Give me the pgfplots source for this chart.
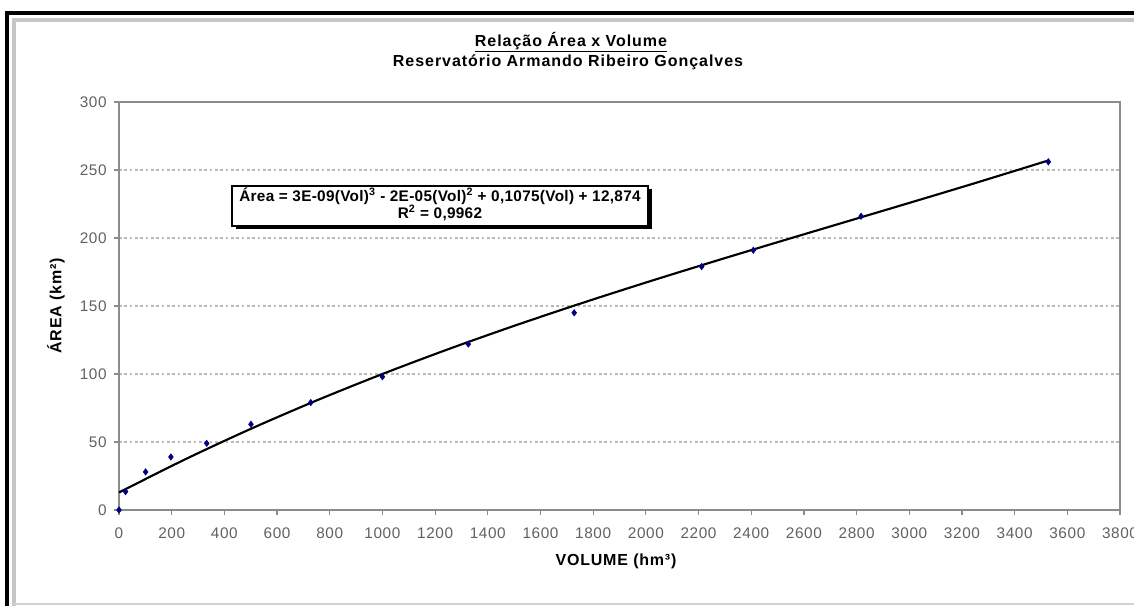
\documentclass[border=0pt]{standalone}
\usepackage{pgfplots}
\pgfplotsset{compat=1.18}
\usepackage{fontspec}
\setmainfont{Liberation Sans}
\definecolor{navy}{RGB}{0,0,128}
\definecolor{gridgray}{RGB}{185,185,185}
\definecolor{axgray}{RGB}{140,140,140}
\begin{document}
\begin{tikzpicture}[x=0.75pt,y=0.75pt]
\useasboundingbox (0,0) rectangle (1134,606);
\fill[white] (0,0) rectangle (1134,606);
% outer frames
\draw[gray!45, line width=2.6pt] (14,0) -- (14,586) -- (1134,586);
\draw[gray!35, line width=1.6pt] (14,2) -- (1134,2);
\draw[black, line width=2.6pt] (7,0) -- (7,593) -- (1134,593);
\begin{axis}[
  at={(89.25pt,72pt)}, anchor=south west,
  scale only axis, width=750.75pt, height=306pt,
  xmin=0, xmax=3800, ymin=0, ymax=300,
  xtick={0,200,...,3800}, ytick={0,50,...,300},
  tick pos=left, tick align=outside,
  major tick length=3.75pt,
  axis line style={axgray, line width=1.1pt},
  every tick/.style={axgray, line width=0.9pt},
  ymajorgrids, major grid style={gridgray, line width=0.8pt, dash pattern=on 2pt off 2pt},
  /pgf/number format/assume math mode=true,
  /pgf/number format/1000 sep={},
  tick label style={font=\fontsize{11.5}{13}\selectfont\addfontfeature{LetterSpace=4}, text=black!62},
  yticklabel style={xshift=-2pt},
  xticklabel style={yshift=-6pt},
  clip=false,
]
\addplot[only marks, mark=diamond*, mark size=2.4pt, color=navy] coordinates {
(0,0) (25,13.5) (101,28) (197,39) (333,49) (501,63) (728,79) (1000,98)
(1326,122) (1728,145) (2212,179) (2408,191) (2817,216) (3528,256)
};
\addplot[black, line width=1.6pt, smooth] coordinates {
(0,12.9) (250,37.15) (500,59.64) (750,80.53) (1000,100.0) (1250,118.24)
(1500,135.41) (1750,151.68) (2000,167.24) (2250,182.25) (2500,196.91)
(2750,211.36) (3000,225.8) (3250,240.38) (3500,255.32) (3528,257.0)
};
\end{axis}
% titles
\node[font=\bfseries\fontsize{12}{14}\selectfont\addfontfeature{LetterSpace=6}] at (571,564) {\underline{Relação Área x Volume}};
\node[font=\bfseries\fontsize{12}{14}\selectfont\addfontfeature{LetterSpace=6}] at (568,544) {Reservatório Armando Ribeiro Gonçalves};
% axis labels
\node[font=\bfseries\fontsize{12}{14}\selectfont\addfontfeature{LetterSpace=5}, rotate=90] at (56,300) {ÁREA (km²)};
\node[font=\bfseries\fontsize{12}{14}\selectfont\addfontfeature{LetterSpace=5}] at (616,45) {VOLUME (hm³)};
% equation box with shadow
\fill[black] (236,377) rectangle (652,417);
\draw[black, line width=0.9pt, fill=white] (232,380) rectangle (648,420);
\node[font=\bfseries\fontsize{11.5}{13}\selectfont\addfontfeature{LetterSpace=2}] at (440,410) {Área = 3E-09(Vol)\textsuperscript{3} - 2E-05(Vol)\textsuperscript{2} + 0,1075(Vol) + 12,874};
\node[font=\bfseries\fontsize{11.5}{13}\selectfont\addfontfeature{LetterSpace=2}] at (440,393) {R\textsuperscript{2} = 0,9962};
\end{tikzpicture}
\end{document}
